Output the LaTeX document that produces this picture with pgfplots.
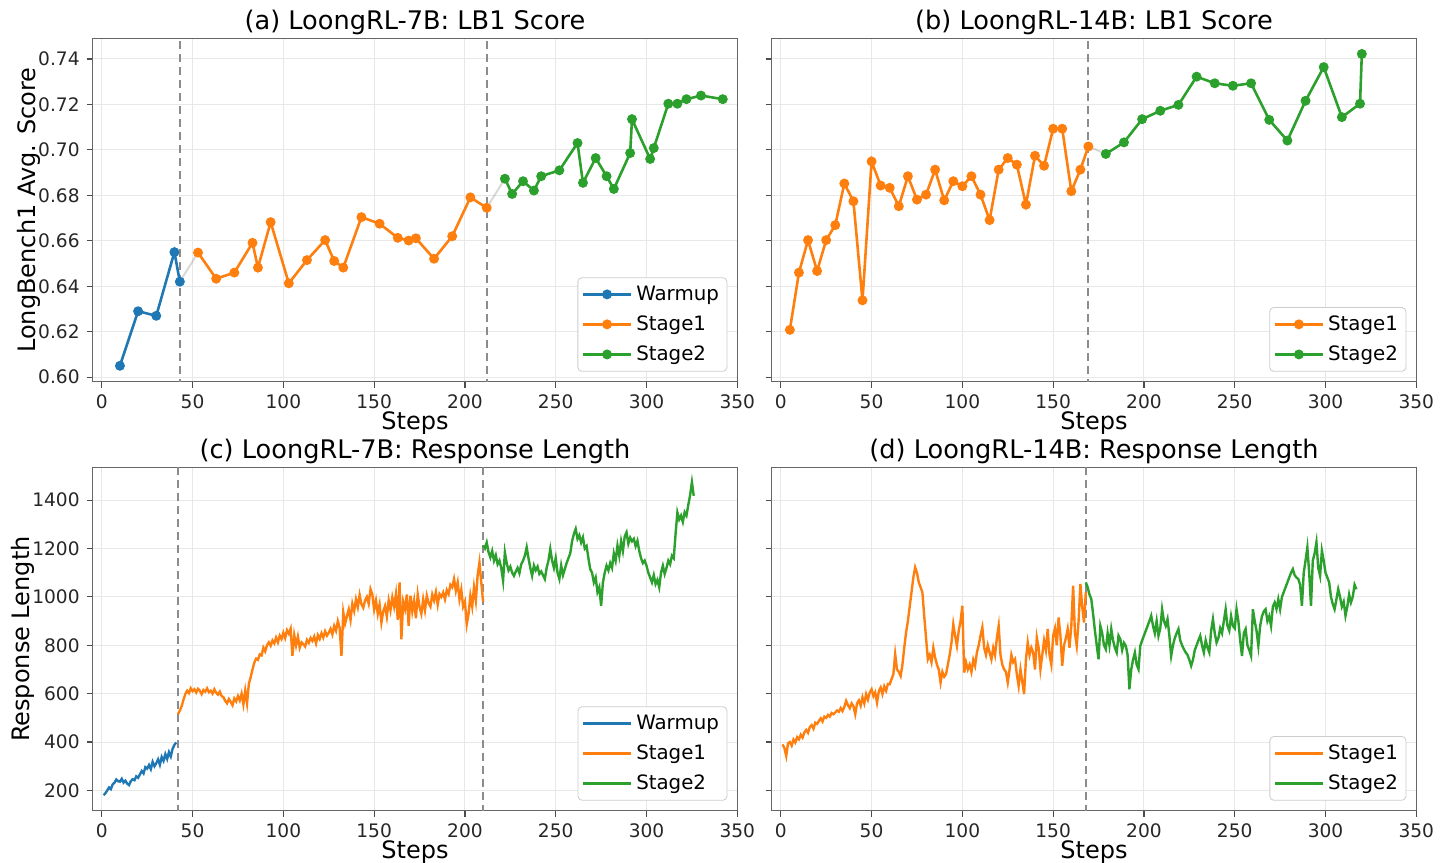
\documentclass[border=0pt]{standalone}
\usepackage{fontspec}
\setmainfont{DejaVu Sans}
\usepackage{pgfplots}
\pgfplotsset{compat=1.18}
\definecolor{tabblue}{HTML}{1F77B4}
\definecolor{taborange}{HTML}{FF7F0E}
\definecolor{tabgreen}{HTML}{2CA02C}
\pgfplotsset{
 base/.style={
  width=322.3pt, height=171.6pt, scale only axis,
  xmin=-5, xmax=350, xtick={0,50,100,150,200,250,300,350},
  grid=major, grid style={black!9, line width=0.5pt},
  axis line style={black!60, line width=0.6pt},
  tick style={black!70, line width=0.6pt},
  tick align=outside, major tick length=3pt,
  xtick pos=bottom, ytick pos=left,
  ticklabel style={font=\fontsize{9.3}{11}\selectfont, color=black!85},
  /pgf/number format/assume math mode=true,
  label style={font=\fontsize{12}{14}\selectfont},
  title style={font=\fontsize{12.8}{15}\selectfont, at={(axis description cs:0.5,1)}, anchor=base, yshift=-1.7pt},
  xlabel style={at={(axis description cs:0.5,0)}, anchor=base, yshift=-24pt},
  legend style={font=\fontsize{9.9}{11.5}\selectfont, at={(1,0)}, anchor=south east,
    xshift=-5pt, yshift=5pt, draw=black!20, rounded corners=2pt, fill=white,
    row sep=2.2pt, inner sep=2pt},
  legend cell align=left,
  legend image code/.code={\draw[mark repeat=2,mark phase=2] plot coordinates {(0cm,0cm) (0.42cm,0cm) (0.84cm,0cm)};},
  xlabel={Steps},
 },
 score/.style={base, ymin=0.598, ymax=0.749,
  ytick={0.60,0.62,0.64,0.66,0.68,0.70,0.72,0.74},
  yticklabel style={/pgf/number format/.cd, fixed, fixed zerofill, precision=2},
  ylabel style={at={(axis description cs:0,0.5)}, anchor=center, yshift=32pt}},
 resp/.style={base, ymin=116, ymax=1535, ytick={200,400,600,800,1000,1200,1400},
  yticklabel style={/pgf/number format/.cd, fixed, 1000 sep={}},
  ylabel style={at={(axis description cs:0,0.5)}, anchor=center, yshift=35pt}},
 sline/.style={line width=1.3pt, mark=*, mark size=1.8pt, mark options={solid}},
 rline/.style={line width=1.2pt},
 vdash/.style={forget plot, black!45, line width=0.9pt, dash pattern=on 4pt off 2.5pt},
 conn/.style={forget plot, gray, opacity=0.3, line width=1pt},
}
\begin{document}
\begin{tikzpicture}
\useasboundingbox (0,0) rectangle (720pt,431pt);
% (a)
\begin{axis}[score, at={(46.35pt,240.15pt)}, anchor=south west,
  title={(a) LoongRL-7B: LB1 Score}, ylabel={LongBench1 Avg. Score}]
\addplot[vdash] coordinates {(43,0.59) (43,0.76)};
\addplot[vdash] coordinates {(212,0.59) (212,0.76)};
\addplot[conn] coordinates {(43,0.642) (53,0.6548)};
\addplot[conn] coordinates {(212,0.6745) (222,0.6873)};
\addplot[sline, tabblue] coordinates {(10,0.605) (20,0.629) (30,0.627) (40,0.655) (43,0.642)};
\addlegendentry{Warmup}
\addplot[sline, taborange] coordinates {(53,0.6548) (63,0.6433) (73,0.6460) (83,0.6591) (86,0.6482) (93,0.6682) (103,0.6413) (113,0.6515) (123,0.6603) (128,0.6511) (133,0.6482) (143,0.6704) (153,0.6675) (163,0.6613) (169,0.6601) (173,0.6611) (183,0.6521) (193,0.6620) (203,0.6791) (212,0.6745)};
\addlegendentry{Stage1}
\addplot[sline, tabgreen] coordinates {(222,0.6873) (226,0.6806) (232,0.6862) (238,0.6821) (242,0.6884) (252,0.6910) (262,0.7030) (265,0.6855) (272,0.6964) (278,0.6884) (282,0.6828) (291,0.6986) (292,0.7135) (302,0.6960) (304,0.7008) (312,0.7203) (317,0.7203) (322,0.7223) (330,0.7239) (342,0.7223)};
\addlegendentry{Stage2}
\end{axis}
% (b)
\begin{axis}[score, at={(385.85pt,240.15pt)}, anchor=south west,
  title={(b) LoongRL-14B: LB1 Score}, yticklabels={}]
\addplot[vdash] coordinates {(169,0.59) (169,0.76)};
\addplot[conn] coordinates {(169.4,0.7015) (179,0.6982)};
\addplot[sline, taborange] coordinates {(5,0.6208) (10,0.6460) (15,0.6603) (20,0.6467) (25,0.6603) (30,0.6669) (35,0.6852) (40,0.6774) (45,0.6338) (50,0.6949) (55,0.6843) (60,0.6833) (65,0.6752) (70,0.6884) (75,0.6781) (80,0.6803) (85,0.6913) (90,0.6778) (95,0.6862) (100,0.6840) (105,0.6884) (110,0.6803) (115,0.6691) (120,0.6913) (125,0.6964) (130,0.6935) (135,0.6759) (140,0.6974) (145,0.6930) (150,0.7093) (155,0.7093) (160,0.6818) (165,0.6913) (169.4,0.7015)};
\addlegendentry{Stage1}
\addplot[sline, tabgreen] coordinates {(179,0.6982) (189,0.7033) (199,0.7135) (209,0.7172) (219,0.7198) (229,0.7322) (239,0.7293) (249,0.7282) (259,0.7293) (269,0.7132) (279,0.7041) (289,0.7216) (299,0.7364) (309,0.7144) (319,0.7203) (320,0.7422)};
\addlegendentry{Stage2}
\end{axis}
% (c)
\begin{axis}[resp, at={(46.35pt,25.65pt)}, anchor=south west,
  title={(c) LoongRL-7B: Response Length}, ylabel={Response Length}]
\addplot[vdash] coordinates {(42,0) (42,1600)};
\addplot[vdash] coordinates {(210,0) (210,1600)};
\addplot[rline, tabblue] table {
1 180
2 188
3 200
4 212
5 205
6 225
7 232
8 245
9 238
10 236
11 248
12 232
13 240
14 228
15 222
16 238
17 246
18 242
19 258
20 252
21 266
22 280
23 270
24 296
25 290
26 305
27 288
28 318
29 300
30 312
31 328
32 306
33 338
34 322
35 350
36 330
37 358
38 340
39 372
40 388
41 398
};
\addlegendentry{Warmup}
\addplot[rline, taborange] table {
42 515
43 530
44 548
45 575
46 598
47 612
48 602
49 622
50 610
51 618
52 605
53 620
54 612
55 598
56 615
57 608
58 622
59 606
60 612
61 600
62 618
63 604
64 596
65 608
66 590
67 585
68 570
69 560
70 578
71 566
72 552
73 580
74 568
75 590
76 572
77 600
78 556
79 612
80 560
81 640
82 668
83 700
84 728
85 745
86 740
87 762
88 758
89 790
90 775
91 800
92 812
93 798
94 820
95 808
96 832
97 812
98 840
99 826
100 852
101 830
102 862
103 848
104 868
105 756
106 842
107 800
108 836
109 790
110 812
111 804
112 795
113 822
114 810
115 830
116 818
117 836
118 808
119 842
120 826
121 850
122 832
123 858
124 840
125 852
126 868
127 845
128 880
129 860
130 900
131 872
132 756
133 936
134 890
135 920
136 948
137 905
138 972
139 942
140 990
141 958
142 1008
143 970
144 955
145 985
146 1000
147 972
148 1032
149 1010
150 948
151 985
152 930
153 968
154 894
155 940
156 962
157 918
158 985
159 945
160 998
161 960
162 1012
163 905
164 1060
165 825
166 980
167 950
168 1010
169 880
170 1005
171 940
172 985
173 912
174 1010
175 958
176 930
177 990
178 945
179 1005
180 975
181 960
182 1010
183 985
184 1020
185 968
186 1012
187 1000
188 1018
189 990
190 1028
191 1012
192 1050
193 1040
194 1074
195 1025
196 1060
197 990
198 1030
199 960
200 980
201 887
202 930
203 1005
204 960
205 1040
206 985
207 1090
208 1143
209 1060
210 980
};
\addlegendentry{Stage1}
\addplot[rline, tabgreen] table {
210 1212
211 1200
212 1225
213 1185
214 1163
215 1190
216 1150
217 1172
218 1135
219 1150
220 1120
221 1067
222 1184
223 1140
224 1110
225 1125
226 1100
227 1087
228 1105
229 1120
230 1098
231 1135
232 1150
233 1170
234 1205
235 1160
236 1120
237 1087
238 1130
239 1110
240 1125
241 1095
242 1105
243 1090
244 1074
245 1120
246 1150
247 1198
248 1150
249 1120
250 1160
251 1100
252 1074
253 1130
254 1090
255 1115
256 1140
257 1160
258 1180
259 1230
260 1260
261 1281
262 1240
263 1255
264 1225
265 1246
266 1200
267 1210
268 1160
269 1115
270 1100
271 1060
272 1080
273 1020
274 1040
275 963
276 1060
277 1100
278 1129
279 1110
280 1140
281 1120
282 1180
283 1150
284 1212
285 1170
286 1230
287 1190
288 1250
289 1267
290 1220
291 1245
292 1230
293 1240
294 1210
295 1232
296 1190
297 1160
298 1140
299 1150
300 1129
301 1100
302 1080
303 1060
304 1090
305 1053
306 1070
307 1040
308 1100
309 1129
310 1095
311 1120
312 1150
313 1135
314 1170
315 1160
316 1260
317 1349
318 1320
319 1336
320 1310
321 1350
322 1336
323 1380
324 1420
325 1474
326 1418
};
\addlegendentry{Stage2}
\end{axis}
% (d)
\begin{axis}[resp, at={(385.85pt,25.65pt)}, anchor=south west,
  title={(d) LoongRL-14B: Response Length}, yticklabels={}]
\addplot[vdash] coordinates {(168,0) (168,1600)};
\addplot[rline, taborange] table {
1 390
2 375
3 342
4 395
5 400
6 385
7 410
8 398
9 420
10 411
11 430
12 418
13 440
14 450
15 438
16 462
17 470
18 455
19 480
20 475
21 487
22 498
23 485
24 505
25 500
26 512
27 505
28 520
29 515
30 522
31 530
32 525
33 540
34 528
35 545
36 570
37 552
38 540
39 560
40 548
41 515
42 560
43 572
44 550
45 585
46 560
47 598
48 575
49 605
50 618
51 590
52 605
53 563
54 610
55 625
56 598
57 630
58 612
59 640
60 639
61 660
62 680
63 763
64 700
65 690
66 673
67 720
68 790
69 853
70 900
71 960
72 1020
73 1080
74 1122
75 1100
76 1060
77 1040
78 1018
79 920
80 830
81 742
82 760
83 730
84 790
85 749
86 720
87 700
88 646
89 690
90 670
91 680
92 720
93 760
94 810
95 887
96 840
97 798
98 860
99 900
100 963
101 687
102 730
103 700
104 720
105 690
106 740
107 715
108 770
109 800
110 840
111 874
112 790
113 760
114 800
115 770
116 742
117 790
118 760
119 830
120 880
121 760
122 720
123 700
124 690
125 646
126 700
127 760
128 730
129 742
130 680
131 632
132 700
133 650
134 598
135 740
136 811
137 760
138 790
139 770
140 700
141 832
142 790
143 701
144 760
145 820
146 780
147 867
148 760
149 720
150 840
151 870
152 800
153 915
154 840
155 715
156 800
157 830
158 867
159 790
160 880
161 1046
162 850
163 798
164 900
165 1053
166 960
167 894
168 1020
};
\addlegendentry{Stage1}
\addplot[rline, tabgreen] table {
168 1060
169 1040
170 1010
171 991
172 930
173 860
174 800
175 742
176 880
177 850
178 800
179 784
180 850
181 800
182 867
183 820
184 790
185 770
186 840
187 825
188 780
189 810
190 798
191 760
192 618
193 700
194 740
195 770
196 720
197 701
198 798
199 820
200 840
201 860
202 880
203 900
204 922
205 880
206 850
207 900
208 839
209 870
210 949
211 900
212 880
213 908
214 840
215 756
216 800
217 830
218 850
219 867
220 820
221 800
222 784
223 770
224 760
225 740
226 715
227 740
228 780
229 800
230 820
231 839
232 800
233 770
234 820
235 790
236 770
237 860
238 908
239 850
240 811
241 830
242 870
243 850
244 900
245 949
246 880
247 860
248 920
249 880
250 870
251 949
252 900
253 820
254 756
255 850
256 867
257 800
258 780
259 756
260 949
261 900
262 860
263 798
264 880
265 920
266 940
267 949
268 900
269 920
270 880
271 960
272 977
273 950
274 990
275 949
276 1000
277 1020
278 1040
279 1060
280 1080
281 1100
282 1115
283 1090
284 1080
285 1074
286 1050
287 963
288 1100
289 1150
290 1205
291 1100
292 963
293 1150
294 1180
295 1226
296 1120
297 1087
298 1191
299 1150
300 1100
301 1080
302 1060
303 1000
304 970
305 949
306 990
307 1032
308 1000
309 960
310 980
311 922
312 960
313 1010
314 977
315 1000
316 1050
317 1032
};
\addlegendentry{Stage2}
\end{axis}
\end{tikzpicture}
\end{document}
